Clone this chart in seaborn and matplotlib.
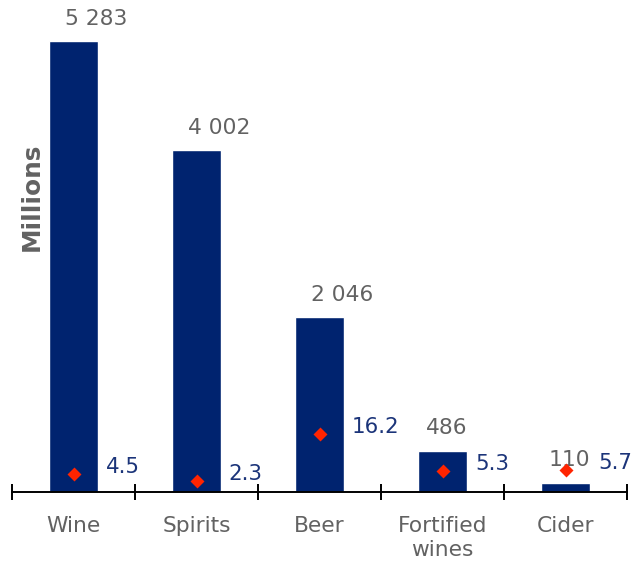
import matplotlib
matplotlib.use("Agg")
import matplotlib.pyplot as plt
import seaborn as sns
import pandas as pd
import numpy as np

# Drink categories, volumes (millions) and growth rates (%)
categories = ["Wine", "Spirits", "Beer", "Fortified\nwines", "Cider"]
volumes = [5283, 4002, 2046, 486, 110]
growth = [4.5, 2.3, 16.2, 5.3, 5.7]

bar_color = "#00236F"
gray = "#626262"
navy_text = "#1B3479"
diamond_color = "#FF2400"
fs = 15.7

df = pd.DataFrame({"category": categories, "volume": volumes, "growth": growth})

sns.set_theme(style="white")
plt.rcParams["font.family"] = ["DejaVu Sans"]

fig = plt.figure(figsize=(6.31, 5.65), dpi=100)
ax = fig.add_axes([12 / 631, 73 / 565, 615 / 631, 461 / 565])

sns.barplot(data=df, x="category", y="volume", order=categories,
            color=bar_color, saturation=1, width=0.4, ax=ax)
ax.set_ylim(0, 5400)

ax2 = ax.twinx()
sns.pointplot(data=df, x="category", y="growth", order=categories,
              linestyle="none", markers="D", color=diamond_color,
              markersize=5.5, ax=ax2)
ax2.set_ylim(-0.947, 135.4)

# volume labels above each bar
for i, v in enumerate(volumes):
    label = f"{v:,}".replace(",", " ")
    dx = 16 if v >= 1000 else 3
    ax.annotate(label, (i, v), xytext=(dx, 16), textcoords="offset points",
                ha="center", va="center", fontsize=fs, color=gray,
                annotation_clip=False)

# growth labels to the right of each diamond
for i, g in enumerate(growth):
    ax2.annotate(f"{g}", (i, g), xytext=(23.3, 5), textcoords="offset points",
                 ha="left", va="center", fontsize=15.4, color=navy_text,
                 annotation_clip=False)

for a in (ax, ax2):
    for s in ("top", "right", "left"):
        a.spines[s].set_visible(False)
    a.set_xlim(-0.5, len(categories) - 0.5)
    a.set_yticks([])
    a.set_xlabel("")
ax2.spines["bottom"].set_visible(False)
ax2.set_ylabel("")
ax2.tick_params(axis="x", which="both", length=0, labelbottom=False)

ax.spines["bottom"].set_color("black")
ax.spines["bottom"].set_linewidth(1.4)

# tick marks at category boundaries, labels at category centres
ax.set_xticks(np.arange(len(categories) + 1) - 0.5)
ax.set_xticklabels([])
ax.set_xticks(np.arange(len(categories)), minor=True)
ax.set_xticklabels(categories, minor=True, fontsize=fs, color=gray,
                   linespacing=1.3)
ax.tick_params(axis="x", which="major", direction="inout", length=11,
               width=1.4, color="black", bottom=True)
ax.tick_params(axis="x", which="minor", length=0, pad=17, bottom=True)

ax.set_ylabel("Millions", fontsize=17.8, fontweight="bold", color=gray)
ax.yaxis.set_label_coords((44 - 12) / 615, (492 - 197) / 461)

fig.savefig("out.png", dpi=100)
